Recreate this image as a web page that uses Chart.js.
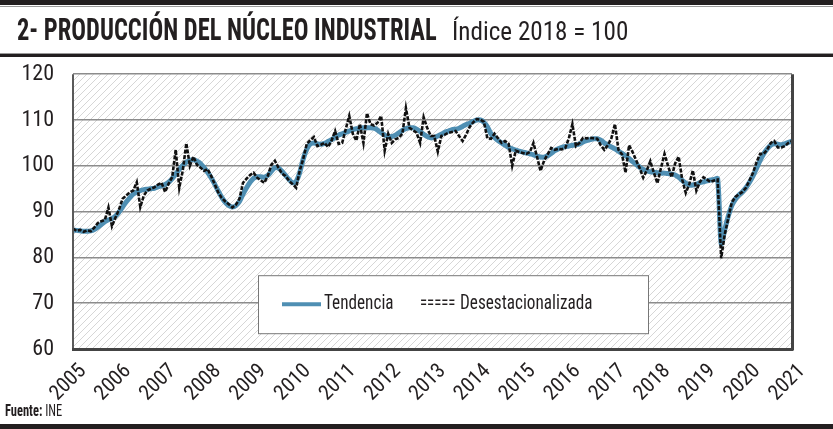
<!DOCTYPE html>
<html><head><meta charset="utf-8">
<script src="https://cdn.jsdelivr.net/npm/chart.js@4.4.0/dist/chart.umd.min.js"></script>
<style>
html,body{margin:0;padding:0;background:#fff;}
body{width:833px;height:429px;position:relative;overflow:hidden;font-family:"Liberation Sans Narrow","Roboto Condensed","DejaVu Sans Condensed","Arial Narrow",sans-serif;color:#231f20;}
.bar{position:absolute;left:0;width:833px;}
#title{position:absolute;left:17px;top:13px;font-size:32px;line-height:32px;font-weight:bold;white-space:nowrap;transform-origin:0 0;}
#sub{position:absolute;left:452px;top:18px;font-size:26px;line-height:26px;white-space:nowrap;transform-origin:0 0;}
#src{position:absolute;left:5px;top:403px;font-size:16px;line-height:16px;white-space:nowrap;transform-origin:0 0;}
#wrap{position:absolute;left:0;top:42px;width:833px;height:363px;}
</style></head><body>
<div class="bar" style="top:0;height:5px;background:#231f20"></div>
<div class="bar" style="top:6px;height:1px;background:#9a9a9a"></div>
<div id="wrap"><canvas id="c" width="833" height="363"></canvas></div>
<div id="title">2- PRODUCCIÓN DEL NÚCLEO INDUSTRIAL</div>
<div id="sub">Índice 2018 = 100</div>
<div class="bar" style="top:53px;height:1px;background:#9a9a9a"></div>
<div class="bar" style="top:54px;height:3px;background:#231f20"></div>
<div id="src"><b>Fuente:</b> INE</div>
<div class="bar" style="top:424px;height:5px;background:#231f20"></div>
<script>
// ---- DATA (monthly) ----
const yearTicks = [2005,2006,2007,2008,2009,2010,2011,2012,2013,2014,2015,2016,2017,2018,2019,2020,2021];

const tendencia = [
 86.0,85.9,85.8,85.7,85.7,85.8,86.1,86.6,87.2,87.8,88.2,88.5,
 89.0,89.9,91.0,92.1,93.0,93.8,94.3,94.6,94.8,94.9,95.0,95.1,
 95.4,95.6,95.9,96.4,97.2,98.2,99.2,100.1,100.8,101.2,101.3,101.0,
 100.5,99.6,98.6,97.4,96.0,94.5,93.1,92.0,91.3,91.0,91.3,92.2,
 93.8,95.2,96.4,97.3,97.6,97.6,97.5,97.9,98.8,99.6,99.5,98.8,
 97.9,97.0,96.3,96.6,98.5,101.5,103.6,104.8,105.0,104.8,104.7,104.9,
 105.3,105.7,106.2,106.7,107.0,107.3,107.6,107.9,108.1,108.2,108.3,108.3,
 108.3,108.2,107.8,107.2,106.7,106.4,106.4,106.7,107.2,107.7,108.1,108.3,
 108.3,108.0,107.5,106.9,106.4,106.1,106.2,106.5,106.9,107.3,107.6,107.9,
 108.0,108.2,108.6,109.0,109.3,109.7,110.0,110.0,109.5,108.5,107.0,106.2,
 105.5,105.0,104.5,104.0,103.7,103.4,103.2,103.0,102.8,102.6,102.4,102.1,
 101.9,101.9,102.2,102.7,103.3,103.7,104.0,104.2,104.3,104.5,104.6,104.8,
 105.2,105.5,105.7,105.9,105.9,105.6,105.0,104.5,104.1,103.7,103.2,102.7,
 102.2,101.6,100.9,100.3,99.7,99.2,98.9,98.7,98.6,98.5,98.4,98.4,
 98.3,98.2,98.0,97.5,96.8,96.2,95.8,95.8,96.0,96.3,96.5,96.7,
 96.9,97.0,97.2,83.0,86.0,89.0,91.3,92.7,93.6,94.3,95.2,96.4,
 97.8,99.5,101.2,102.6,103.7,104.5,104.8,104.7,104.6,104.8,105.1,105.4
];

const desestacionalizada = [
 86.3,85.8,86.0,85.6,85.9,85.7,86.5,87.5,87.9,88.2,90.9,86.8,
 88.7,90.5,92.8,93.5,94.2,94.6,96.4,91.0,93.5,94.6,95.0,95.3,
 95.9,96.3,94.3,96.1,97.5,103.5,95.2,99.0,104.9,100.0,102.0,100.2,
 99.6,98.9,99.3,97.8,96.0,94.2,93.0,92.2,91.6,90.9,91.5,92.8,
 96.3,97.2,98.0,98.5,97.4,96.8,96.3,97.8,100.2,101.1,99.6,98.3,
 97.8,96.7,96.0,95.2,98.9,101.5,104.8,105.6,106.3,104.3,104.6,105.0,
 104.1,105.5,107.6,104.8,105.0,108.0,110.9,107.0,105.5,109.1,105.0,111.5,
 109.1,108.8,109.4,110.9,103.3,107.0,105.0,105.8,106.1,107.0,112.6,108.3,
 107.8,107.2,105.0,110.6,108.3,106.5,106.5,103.1,106.5,106.8,107.2,107.4,
 107.6,106.5,105.4,106.8,108.5,109.5,110.2,110.1,109.6,106.0,105.9,107.0,
 106.0,105.0,105.4,104.8,100.0,103.3,103.0,102.8,102.6,103.0,105.0,102.0,
 98.9,101.1,102.5,103.9,103.5,103.7,103.6,103.9,106.0,109.1,104.3,105.0,
 106.1,106.0,106.1,106.0,105.9,104.5,103.5,104.5,106.0,109.1,103.5,102.5,
 98.5,104.5,103.0,101.2,99.5,97.4,99.0,101.0,98.5,96.2,99.5,102.6,
 100.0,97.5,100.5,102.0,97.0,94.1,96.0,99.0,94.6,96.5,97.5,97.0,
 96.5,96.8,97.0,79.8,85.0,88.5,92.0,93.2,93.8,94.3,95.2,96.8,
 98.5,100.8,102.6,102.6,103.5,105.0,105.4,104.0,104.0,104.3,105.0,105.4
];

const months = [];
for (let y = 2005; y <= 2021; y++) for (let m = 1; m <= 12; m++) months.push(y + '-' + String(m).padStart(2, '0'));

// ---- text fitting ----
function fit(id, w){ const el=document.getElementById(id); const r=el.offsetWidth; el.style.transform='scaleX('+(w/r)+')'; }
fit('title', 420); fit('sub', 176); fit('src', 57);

const FONT = '"Liberation Sans Narrow","Roboto Condensed","DejaVu Sans Condensed","Arial Narrow",sans-serif';
Chart.defaults.font.family = FONT;
Chart.defaults.color = '#231f20';

function hatch(ctx){
  const t=document.createElement('canvas'); t.width=7; t.height=7;
  const g=t.getContext('2d'); g.strokeStyle='#d6d6d6'; g.lineWidth=1;
  g.beginPath(); g.moveTo(-1,8); g.lineTo(8,-1); g.moveTo(-1,1); g.lineTo(1,-1); g.moveTo(6,8); g.lineTo(8,6); g.stroke();
  return ctx.createPattern(t,'repeat');
}

const bgPlugin = {
  id:'bg',
  beforeDraw(chart){
    const {ctx, chartArea:a} = chart;
    ctx.save(); ctx.fillStyle='#fff'; ctx.fillRect(a.left,a.top,a.right-a.left,a.bottom-a.top);
    ctx.fillStyle=hatch(ctx); ctx.fillRect(a.left,a.top,a.right-a.left,a.bottom-a.top); ctx.restore();
  },
  afterDraw(chart){
    const {ctx, chartArea:a} = chart;
    ctx.save();
    ctx.strokeStyle='#5a5a5a'; ctx.lineWidth=2;
    ctx.beginPath(); ctx.moveTo(a.left,a.top); ctx.lineTo(a.left,a.bottom); ctx.stroke();
    ctx.strokeStyle='#444'; ctx.lineWidth=3;
    ctx.beginPath(); ctx.moveTo(a.left-1,a.bottom+0.5); ctx.lineTo(a.right+1.5,a.bottom+0.5); ctx.moveTo(a.right+0.5,a.top); ctx.lineTo(a.right+0.5,a.bottom+1); ctx.stroke();
    // legend box
    const bx=258, by=a.top+201, bw=390, bh=58;
    ctx.fillStyle='#fff'; ctx.fillRect(bx,by,bw,bh);
    ctx.strokeStyle='#777'; ctx.lineWidth=1; ctx.strokeRect(bx+0.5,by+0.5,bw,bh);
    const ds=chart.data.datasets;
    const cy=by+29;
    ctx.strokeStyle=ds[1].borderColor; ctx.lineWidth=4;
    ctx.beginPath(); ctx.moveTo(bx+24,cy); ctx.lineTo(bx+63,cy); ctx.stroke();
    ctx.fillStyle='#231f20'; ctx.font='20px '+FONT; ctx.textBaseline='middle'; ctx.textAlign='left';
    const sx=0.86;
    ctx.save(); ctx.translate(bx+66,cy); ctx.scale(sx,1); ctx.fillText(ds[1].label,0,0); ctx.restore();
    ctx.save(); ctx.translate(bx+162,cy); ctx.scale(0.74,1); ctx.fillText('=====',0,0); ctx.restore();
    ctx.save(); ctx.translate(bx+202,cy); ctx.scale(sx,1); ctx.fillText(ds[0].label,0,0); ctx.restore();
    ctx.restore();
  }
};

new Chart(document.getElementById('c'), {
  type:'line',
  data:{ labels: months, datasets:[
    {label:'Desestacionalizada', data:desestacionalizada, borderColor:'#111', borderWidth:2.6, borderDash:[4,1.5], pointRadius:0, tension:0, order:0, xAxisID:'x'},
    {label:'Tendencia', data:tendencia, borderColor:'#4f8fb3', borderWidth:5, pointRadius:0, tension:0.3, order:1, xAxisID:'x'}
  ]},
  options:{
    responsive:false, animation:false, events:[],
    layout:{padding:{top:1,right:41,left:0,bottom:0}},
    plugins:{legend:{display:false}, tooltip:{enabled:false}},
    scales:{
      x:{type:'category', display:false, offset:false},
      years:{type:'linear', position:'bottom', min:2005, max:2021,
        afterBuildTicks:(s)=>{ s.ticks = yearTicks.map(v=>({value:v})); },
        ticks:{autoSkip:false, maxRotation:45, minRotation:45, labelOffset:10, padding:2, font:{size:21}, callback:(v)=>String(v)},
        grid:{display:false}, border:{display:false},
        afterFit:(s)=>{ s.height=56; }},
      y:{min:60, max:120,
        ticks:{stepSize:10, padding:19, font:{size:22}},
        grid:{color:'#8c8c8c', lineWidth:1.5, drawTicks:false}, border:{display:false},
        afterFit:(s)=>{ s.width=73; }}
    }
  },
  plugins:[bgPlugin]
});
</script>
</body></html>
